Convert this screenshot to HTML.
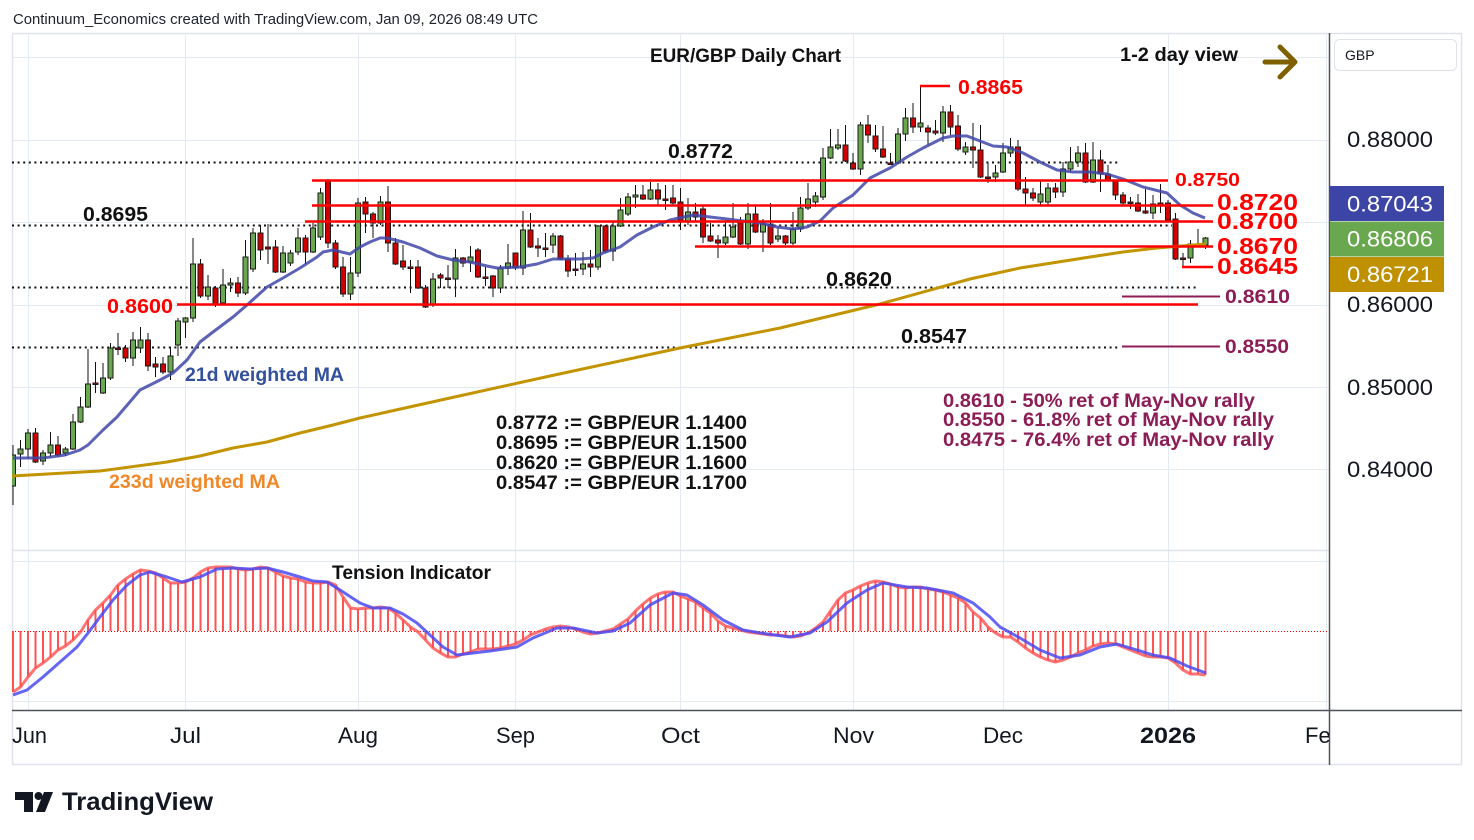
<!DOCTYPE html>
<html><head><meta charset="utf-8">
<style>
html,body{margin:0;padding:0;background:#fff;width:1474px;height:840px;overflow:hidden}
svg{display:block}
text{font-family:"Liberation Sans","DejaVu Sans",sans-serif}
.b{font-weight:bold}
</style></head><body>
<svg width="1474" height="840" viewBox="0 0 1474 840" xmlns="http://www.w3.org/2000/svg">
<defs>
<clipPath id="cm"><rect x="12" y="34" width="1317" height="516"/></clipPath>
<clipPath id="ci"><rect x="12" y="551" width="1317" height="159"/></clipPath>
</defs>
<rect width="1474" height="840" fill="#fff"/>
<!-- grid -->
<g stroke="#e4eaf2" stroke-width="1" fill="none">
<path d="M12 57.5H1329M12 140.5H1329M12 222.5H1329M12 305.5H1329M12 387.5H1329M12 469.5H1329M12 561.5H1329M12 701.5H1329"/>
<path d="M28.5 34V710M185.5 34V710M358.5 34V710M515.5 34V710M680.5 34V710M853.5 34V710M1003.5 34V710M1168.5 34V710M1326.5 34V710"/>
</g>
<!-- frame -->
<rect x="12.5" y="33.5" width="1449" height="731" fill="none" stroke="#e0e3eb" stroke-width="1.5"/>
<path d="M12 550.5H1329" stroke="#e0e3eb" stroke-width="1.5"/>
<path d="M1329.5 33V765" stroke="#50535e" stroke-width="1.5"/>
<path d="M12 710.5H1462" stroke="#50535e" stroke-width="1.5"/>

<!-- header -->
<text x="13" y="24" font-size="15" fill="#1e222d" textLength="525" lengthAdjust="spacingAndGlyphs">Continuum_Economics created with TradingView.com, Jan 09, 2026 08:49 UTC</text>

<!-- dotted levels -->
<g stroke="#111" stroke-width="2" stroke-dasharray="2 3.6" fill="none" clip-path="url(#cm)">
<path d="M12 162.5H1120"/>
<path d="M12 225.5H1172"/>
<path d="M12 287.5H1198"/>
<path d="M12 347.5H1120"/>
</g>

<!-- candles -->
<g clip-path="url(#cm)">
<path stroke="#111" stroke-width="1" fill="none" d="M13 445V505M20.5 440V467M28 429V458M35.5 428V463M43 450V465M50.5 432V457M58 436V457M65.5 447V456M73 414V450M80.5 397V423M88 349V408M95.5 362V393M103 363V394M110.5 343V380M118 333V355M125.5 345V362M133 332V366M140.5 327V353M148 333V371M155.5 357V377M163 357V374M170.5 347V380M178 318V356M185.5 317V338M193 238V322M200.5 259V298M208 275V300M215.5 286V307M223 269V304M230.5 278V292M238 277V297M245.5 240V295M253 228V272M260.5 225V260M268 224V264M275.5 240V273M283 246V273M290.5 250V266M298 228V255M305.5 235V264M313 223V253M320.5 188V240M328 179V248M335.5 240V269M343 257V297M350.5 257V300M358 198V277M365.5 197V233M373 212V238M380.5 196V225M388 186V252M395.5 238V265M403 245V270M410.5 260V293M418 260V289M425.5 285V308M433 273V307M440.5 273V288M448 265V288M455.5 249V297M463 257V267M470.5 246V272M478 248V278M485.5 267V286M493 275V297M500.5 265V293M508 244V275M515.5 253V270M523 211V275M530.5 213V248M538 238V257M545.5 233V257M553 233V253M560.5 235V260M568 255V277M575.5 253V276M583 252V275M590.5 250V277M598 225V270M605.5 225V253M613 222V261M620.5 198V227M628 193V216M635.5 185V208M643 185V200M650.5 182V200M658 183V205M665.5 185V210M673 185V205M680.5 188V230M688 198V225M695.5 203V222M703 205V243M710.5 223V242M718 235V258M725.5 222V245M733 203V238M740.5 217V245M748 203V249M755.5 205V233M763 219V252M770.5 203V245M778 227V242M785.5 235V245M793 212V245M800.5 197V232M808 183V210M815.5 192V207M823 148V200M830.5 129V159M838 129V150M845.5 125V162M853 153V170M860.5 122V175M868 115V143M875.5 125V152M883 126V158M890.5 153V165M898 128V164M905.5 108V141M913 103V133M920.5 86V132M928 125V145M935.5 120V135M943 106V142M950.5 105V135M958 115V151M965.5 142V155M973 123V168M980.5 125V178M988 163V183M995.5 165V182M1003 143V173M1010.5 138V157M1018 140V191M1025.5 177V205M1033 188V201M1040.5 180V205M1048 183V205M1055.5 183V198M1063 162V197M1070.5 147V172M1078 146V167M1085.5 143V183M1093 142V183M1100.5 150V192M1108 165V181M1115.5 180V200M1123 192V205M1130.5 197V209M1138 194V212M1145.5 189V214M1153 195V219M1160.5 184V213M1168 200V221M1175.5 213V260M1183 253V267M1190.5 240V263M1198 229V245M1205.5 237V249"/>
<path stroke="#1a1a1a" stroke-width="1" fill="#6aa84f" d="M10.5 455h5v31h-5zM18 449h5v5h-5zM25.5 433h5v16h-5zM40.5 453h5v8h-5zM48 445h5v8h-5zM63 449h5v4h-5zM70.5 422h5v27h-5zM78 407h5v15h-5zM85.5 384h5v23h-5zM100.5 378h5v15h-5zM108 348h5v30h-5zM130.5 340h5v18h-5zM138 340h5v8h-5zM168 356h5v16h-5zM175.5 321h5v24h-5zM183 318h5v4h-5zM190.5 264h5v54h-5zM205.5 287h5v9h-5zM220.5 285h5v18h-5zM228 283h5v2h-5zM243 257h5v36h-5zM250.5 233h5v36h-5zM280.5 253h5v19h-5zM288 253h5v10h-5zM295.5 238h5v14h-5zM310.5 228h5v24h-5zM318 193h5v44h-5zM348 273h5v21h-5zM355.5 203h5v70h-5zM378 202h5v21h-5zM430.5 279h5v26h-5zM453 258h5v21h-5zM468 257h5v5h-5zM498 268h5v20h-5zM505.5 263h5v5h-5zM520.5 230h5v38h-5zM550.5 236h5v9h-5zM580.5 264h5v5h-5zM595.5 226h5v41h-5zM610.5 226h5v25h-5zM618 210h5v16h-5zM625.5 197h5v17h-5zM633 195h5v2h-5zM648 190h5v9h-5zM685.5 212h5v9h-5zM723 237h5v6h-5zM730.5 227h5v10h-5zM745.5 214h5v30h-5zM760.5 224h5v8h-5zM775.5 236h5v3h-5zM790.5 229h5v14h-5zM798 208h5v21h-5zM805.5 199h5v9h-5zM813 196h5v6h-5zM820.5 158h5v39h-5zM828 147h5v11h-5zM835.5 145h5v3h-5zM858 125h5v44h-5zM895.5 134h5v29h-5zM903 118h5v16h-5zM918 123h5v4h-5zM940.5 112h5v21h-5zM963 147h5v5h-5zM993 173h5v4h-5zM1000.5 153h5v19h-5zM1008 147h5v6h-5zM1038 194h5v8h-5zM1045.5 188h5v14h-5zM1060.5 169h5v23h-5zM1068 162h5v7h-5zM1075.5 153h5v9h-5zM1090.5 160h5v22h-5zM1150.5 204h5v9h-5zM1188 244h5v14h-5zM1203 238h5v7h-5z"/>
<path stroke="#1a1a1a" stroke-width="1" fill="#d00000" d="M33 433h5v29h-5zM55.5 445h5v10h-5zM93 383h5v1.5h-5zM115.5 348h5v1.5h-5zM123 348h5v10h-5zM145.5 340h5v26h-5zM153 364h5v3h-5zM160.5 364h5v8h-5zM198 264h5v32h-5zM213 288h5v16h-5zM235.5 283h5v10h-5zM258 233h5v17h-5zM265.5 247h5v2h-5zM273 247h5v25h-5zM303 238h5v14h-5zM325.5 181h5v62h-5zM333 243h5v24h-5zM340.5 267h5v27h-5zM363 202h5v12h-5zM370.5 214h5v9h-5zM385.5 202h5v41h-5zM393 243h5v21h-5zM400.5 261h5v6h-5zM408 267h5v1.5h-5zM415.5 267h5v21h-5zM423 288h5v19h-5zM438 275h5v3h-5zM445.5 278h5v1.5h-5zM460.5 258h5v5h-5zM475.5 250h5v27h-5zM483 277h5v1.5h-5zM490.5 276h5v12h-5zM513 253h5v15h-5zM528 230h5v17h-5zM535.5 246h5v2h-5zM543 248h5v1.5h-5zM558 236h5v23h-5zM565.5 259h5v12h-5zM573 269h5v1.5h-5zM588 264h5v3h-5zM603 226h5v25h-5zM640.5 195h5v4h-5zM655.5 190h5v9h-5zM663 199h5v1.5h-5zM670.5 198h5v5h-5zM678 202h5v19h-5zM693 212h5v5h-5zM700.5 209h5v28h-5zM708 236h5v5h-5zM715.5 240h5v3h-5zM738 222h5v22h-5zM753 214h5v18h-5zM768 224h5v19h-5zM783 236h5v7h-5zM843 145h5v16h-5zM850.5 163h5v6h-5zM865.5 125h5v10h-5zM873 136h5v13h-5zM880.5 149h5v8h-5zM888 163h5v1.5h-5zM910.5 118h5v9h-5zM925.5 128h5v4h-5zM933 131h5v2h-5zM948 112h5v15h-5zM955.5 126h5v23h-5zM970.5 147h5v3h-5zM978 150h5v27h-5zM985.5 177h5v1.5h-5zM1015.5 147h5v42h-5zM1023 189h5v4h-5zM1030.5 193h5v5h-5zM1053 188h5v4h-5zM1083 153h5v29h-5zM1098 160h5v14h-5zM1105.5 174h5v7h-5zM1113 181h5v14h-5zM1120.5 195h5v8h-5zM1128 202h5v1.5h-5zM1135.5 203h5v8h-5zM1143 211h5v2h-5zM1158 203h5v2h-5zM1165.5 203h5v17h-5zM1173 219h5v40h-5zM1180.5 258h5v1.5h-5zM1195.5 244h5v1.5h-5z"/>
<!-- 233d MA -->
<polyline fill="none" stroke="#c29400" stroke-width="3" stroke-linejoin="round" points="12,476 100,471 167,462 200,456 233,448 267,442 300,433 333,425 360,418 450,398 550,376 680,348 780,328 880,304 970,279 1020,268 1090,257 1123,252 1157,248 1206,244"/>
<!-- 21d MA -->
<polyline fill="none" stroke="#3f47a8" stroke-opacity="0.85" stroke-width="3" stroke-linejoin="round" points="13,458 43,458 65,455 80,450 88,445 103,430 117,417 140,390 160,380 173,373 187,360 200,342 213,332 233,317 247,305 267,287 283,278 300,268 317,257 323,252 333,250 350,254 360,247 370,242 380,238 387,238 403,242 420,248 437,256 453,260 470,262 487,266 497,268 520,267 537,264 553,259 580,259 593,258 603,253 620,247 637,235 653,227 670,220 693,215 710,217 727,219 743,221 760,223 777,227 793,229 807,227 820,221 833,208 853,195 870,178 890,168 907,157 923,148 933,143 943,138 953,136 967,136 980,141 993,146 1007,147 1023,153 1040,162 1057,170 1073,172 1090,172 1107,174 1123,179 1143,187 1167,193 1180,205 1193,213 1205,218"/>
</g>

<!-- indicator -->
<g clip-path="url(#ci)">
<path d="M12 631.5H1329" stroke="#ff0000" stroke-width="1" stroke-dasharray="1 2" fill="none"/>
<path stroke="#ff4040" stroke-opacity="0.9" stroke-width="2" fill="none" d="M13 631V692M20.5 631V687M28 631V677M35.5 631V668M43 631V663M50.5 631V657M58 631V650M65.5 631V646M73 631V640M80.5 631V632M88 631V620M95.5 631V610M103 631V603M110.5 631V595M118 631V585M125.5 631V579M133 631V574M140.5 631V570M148 631V571M155.5 631V573M163 631V578M170.5 631V583M178 631V583M185.5 631V582M193 631V578M200.5 631V572M208 631V568M215.5 631V567M223 631V567M230.5 631V567M238 631V569M245.5 631V570M253 631V569M260.5 631V567M268 631V568M275.5 631V572M283 631V576M290.5 631V578M298 631V579M305.5 631V582M313 631V583M320.5 631V583M328 631V582M335.5 631V585M343 631V597M350.5 631V608M358 631V609M365.5 631V608M373 631V608M380.5 631V607M388 631V608M395.5 631V613M403 631V620M410.5 631V627M418 631V632M425.5 631V640M433 631V648M440.5 631V653M448 631V657M455.5 631V657M463 631V654M470.5 631V652M478 631V649M485.5 631V649M493 631V649M500.5 631V648M508 631V646M515.5 631V644M523 631V640M530.5 631V635M538 631V632M545.5 631V629M553 631V627M560.5 631V626M568 631V627M575.5 631V629M583 631V632M590.5 631V634M598 631V633M605.5 631V631M613 631V629M620.5 631V624M628 631V619M635.5 631V611M643 631V604M650.5 631V598M658 631V594M665.5 631V592M673 631V592M680.5 631V596M688 631V599M695.5 631V602M703 631V608M710.5 631V613M718 631V621M725.5 631V626M733 631V628M740.5 631V630M748 631V632M755.5 631V633M763 631V634M770.5 631V635M778 631V635M785.5 631V636M793 631V637M800.5 631V636M808 631V633M815.5 631V628M823 631V622M830.5 631V611M838 631V600M845.5 631V593M853 631V590M860.5 631V586M868 631V583M875.5 631V581M883 631V582M890.5 631V584M898 631V587M905.5 631V588M913 631V587M920.5 631V587M928 631V589M935.5 631V590M943 631V592M950.5 631V595M958 631V598M965.5 631V603M973 631V612M980.5 631V618M988 631V627M995.5 631V633M1003 631V637M1010.5 631V637M1018 631V642M1025.5 631V648M1033 631V653M1040.5 631V657M1048 631V660M1055.5 631V662M1063 631V660M1070.5 631V657M1078 631V653M1085.5 631V650M1093 631V646M1100.5 631V644M1108 631V643M1115.5 631V644M1123 631V647M1130.5 631V650M1138 631V653M1145.5 631V656M1153 631V657M1160.5 631V657M1168 631V658M1175.5 631V663M1183 631V670M1190.5 631V674M1198 631V674M1205.5 631V675"/>
<polyline fill="none" stroke="#ff5050" stroke-opacity="0.8" stroke-width="3" stroke-linejoin="round" points="13,692 20.5,687 28,677 35.5,668 43,663 50.5,657 58,650 65.5,646 73,640 80.5,632 88,620 95.5,610 103,603 110.5,595 118,585 125.5,579 133,574 140.5,570 148,571 155.5,573 163,578 170.5,583 178,583 185.5,582 193,578 200.5,572 208,568 215.5,567 223,567 230.5,567 238,569 245.5,570 253,569 260.5,567 268,568 275.5,572 283,576 290.5,578 298,579 305.5,582 313,583 320.5,583 328,582 335.5,585 343,597 350.5,608 358,609 365.5,608 373,608 380.5,607 388,608 395.5,613 403,620 410.5,627 418,632 425.5,640 433,648 440.5,653 448,657 455.5,657 463,654 470.5,652 478,649 485.5,649 493,649 500.5,648 508,646 515.5,644 523,640 530.5,635 538,632 545.5,629 553,627 560.5,626 568,627 575.5,629 583,632 590.5,634 598,633 605.5,631 613,629 620.5,624 628,619 635.5,611 643,604 650.5,598 658,594 665.5,592 673,592 680.5,596 688,599 695.5,602 703,608 710.5,613 718,621 725.5,626 733,628 740.5,630 748,632 755.5,633 763,634 770.5,635 778,635 785.5,636 793,637 800.5,636 808,633 815.5,628 823,622 830.5,611 838,600 845.5,593 853,590 860.5,586 868,583 875.5,581 883,582 890.5,584 898,587 905.5,588 913,587 920.5,587 928,589 935.5,590 943,592 950.5,595 958,598 965.5,603 973,612 980.5,618 988,627 995.5,633 1003,637 1010.5,637 1018,642 1025.5,648 1033,653 1040.5,657 1048,660 1055.5,662 1063,660 1070.5,657 1078,653 1085.5,650 1093,646 1100.5,644 1108,643 1115.5,644 1123,647 1130.5,650 1138,653 1145.5,656 1153,657 1160.5,657 1168,658 1175.5,663 1183,670 1190.5,674 1198,674 1205.5,675"/>
<polyline fill="none" stroke="#4a4af5" stroke-opacity="0.85" stroke-width="3" stroke-linejoin="round" points="13,695 27,690 43,677 60,662 77,647 88,633 100,617 113,600 127,585 140,575 150,572 167,577 182,582 200,577 217,569 233,568 250,569 267,568 283,572 300,577 313,581 327,582 340,590 360,603 373,608 390,608 403,614 417,623 430,635 443,647 457,655 473,653 490,651 517,647 533,638 557,628 573,628 597,633 613,631 630,623 650,605 673,593 687,595 703,605 723,620 743,630 767,634 790,637 810,633 827,622 847,603 867,590 883,583 907,587 927,588 953,593 973,603 990,617 1000,627 1020,638 1040,650 1060,658 1080,655 1100,647 1117,644 1137,650 1153,655 1170,658 1187,666 1206,673"/>
</g>

<!-- red levels -->
<g stroke="#ff0000" stroke-width="2.4" fill="none">
<path d="M920 86H950"/>
<path d="M312 180.5H1168"/>
<path d="M312 205.5H1213"/>
<path d="M305 221.5H1213"/>
<path d="M695 246.5H1213"/>
<path d="M1182 267H1213"/>
<path d="M177 304.5H1198"/>
</g>
<g stroke="#8c1d56" stroke-width="2" fill="none">
<path d="M1122 296.5H1220"/>
<path d="M1122 346.5H1220"/>
</g>

<!-- red labels -->
<g fill="#ff0000">
<text x="958" y="94" font-size="20" class="b" textLength="65" lengthAdjust="spacingAndGlyphs">0.8865</text>
<text x="1175" y="186" font-size="18" class="b" textLength="65" lengthAdjust="spacingAndGlyphs">0.8750</text>
<text x="1217" y="210" font-size="23" class="b" textLength="81" lengthAdjust="spacingAndGlyphs">0.8720</text>
<text x="1217" y="229" font-size="23" class="b" textLength="81" lengthAdjust="spacingAndGlyphs">0.8700</text>
<text x="1217" y="254" font-size="23" class="b" textLength="81" lengthAdjust="spacingAndGlyphs">0.8670</text>
<text x="1217" y="274" font-size="23" class="b" textLength="81" lengthAdjust="spacingAndGlyphs">0.8645</text>
<text x="107" y="313" font-size="20" class="b" textLength="66" lengthAdjust="spacingAndGlyphs">0.8600</text>
</g>
<g fill="#8c1d56">
<text x="1225" y="303" font-size="19" class="b" textLength="65" lengthAdjust="spacingAndGlyphs">0.8610</text>
<text x="1225" y="353" font-size="19" class="b" textLength="64" lengthAdjust="spacingAndGlyphs">0.8550</text>
<text x="943" y="407" font-size="19" class="b" textLength="312" lengthAdjust="spacingAndGlyphs">0.8610 - 50% ret of May-Nov rally</text>
<text x="943" y="426" font-size="19" class="b" textLength="331" lengthAdjust="spacingAndGlyphs">0.8550 - 61.8% ret of May-Nov rally</text>
<text x="943" y="446" font-size="19" class="b" textLength="331" lengthAdjust="spacingAndGlyphs">0.8475 - 76.4% ret of May-Nov rally</text>
</g>

<!-- black labels -->
<g fill="#111">
<text x="650" y="62" font-size="19" class="b" textLength="191" lengthAdjust="spacingAndGlyphs">EUR/GBP Daily Chart</text>
<text x="1120" y="61" font-size="19" class="b" textLength="118" lengthAdjust="spacingAndGlyphs">1-2 day view</text>
<text x="668" y="158" font-size="20" class="b" textLength="65" lengthAdjust="spacingAndGlyphs">0.8772</text>
<text x="83" y="221" font-size="20" class="b" textLength="65" lengthAdjust="spacingAndGlyphs">0.8695</text>
<text x="826" y="286" font-size="20" class="b" textLength="66" lengthAdjust="spacingAndGlyphs">0.8620</text>
<text x="901" y="343" font-size="20" class="b" textLength="66" lengthAdjust="spacingAndGlyphs">0.8547</text>
<text x="496" y="429" font-size="19" class="b" textLength="251" lengthAdjust="spacingAndGlyphs">0.8772 := GBP/EUR 1.1400</text>
<text x="496" y="449" font-size="19" class="b" textLength="251" lengthAdjust="spacingAndGlyphs">0.8695 := GBP/EUR 1.1500</text>
<text x="496" y="469" font-size="19" class="b" textLength="251" lengthAdjust="spacingAndGlyphs">0.8620 := GBP/EUR 1.1600</text>
<text x="496" y="489" font-size="19" class="b" textLength="251" lengthAdjust="spacingAndGlyphs">0.8547 := GBP/EUR 1.1700</text>
<text x="332" y="579" font-size="19" class="b" textLength="159" lengthAdjust="spacingAndGlyphs">Tension Indicator</text>
</g>
<text x="185" y="381" font-size="19" class="b" fill="#33509c" textLength="159" lengthAdjust="spacingAndGlyphs">21d weighted MA</text>
<text x="109" y="488" font-size="19" class="b" fill="#f0882a" textLength="171" lengthAdjust="spacingAndGlyphs">233d weighted MA</text>

<!-- arrow -->
<g stroke="#7f6000" stroke-width="5" stroke-linecap="round" stroke-linejoin="round" fill="none">
<path d="M1265 62H1295M1280 47L1295 62L1280 77"/>
</g>

<!-- price axis -->
<rect x="1334.5" y="39.5" width="122" height="31" rx="5" fill="#fff" stroke="#e0e3eb"/>
<text x="1345" y="60" font-size="14" fill="#131722">GBP</text>
<g fill="#131722" font-size="22">
<text x="1347" y="147" textLength="86" lengthAdjust="spacingAndGlyphs">0.88000</text>
<text x="1347" y="312" textLength="86" lengthAdjust="spacingAndGlyphs">0.86000</text>
<text x="1347" y="395" textLength="86" lengthAdjust="spacingAndGlyphs">0.85000</text>
<text x="1347" y="477" textLength="86" lengthAdjust="spacingAndGlyphs">0.84000</text>
</g>
<rect x="1330" y="186" width="114" height="35" fill="#3c45a5"/>
<rect x="1330" y="221.5" width="114" height="35" fill="#6aa84f"/>
<rect x="1330" y="257" width="114" height="35" fill="#bf9000"/>
<g fill="#fff" font-size="22">
<text x="1347" y="211.5" textLength="86" lengthAdjust="spacingAndGlyphs">0.87043</text>
<text x="1347" y="246.5" textLength="86" lengthAdjust="spacingAndGlyphs">0.86806</text>
<text x="1347" y="282" textLength="86" lengthAdjust="spacingAndGlyphs">0.86721</text>
</g>

<!-- time axis -->
<g fill="#131722" font-size="22">
<text x="12" y="743" textLength="35" lengthAdjust="spacingAndGlyphs">Jun</text>
<text x="170" y="743" textLength="31" lengthAdjust="spacingAndGlyphs">Jul</text>
<text x="338" y="743" textLength="40" lengthAdjust="spacingAndGlyphs">Aug</text>
<text x="496" y="743" textLength="39" lengthAdjust="spacingAndGlyphs">Sep</text>
<text x="661" y="743" textLength="39" lengthAdjust="spacingAndGlyphs">Oct</text>
<text x="833" y="743" textLength="41" lengthAdjust="spacingAndGlyphs">Nov</text>
<text x="983" y="743" textLength="40" lengthAdjust="spacingAndGlyphs">Dec</text>
<text x="1140" y="743" class="b" textLength="56" lengthAdjust="spacingAndGlyphs">2026</text>
</g>
<svg x="1300" y="715" width="29" height="45"><text x="5" y="28" font-size="22" fill="#131722">Feb</text></svg>

<!-- TradingView logo -->
<g fill="#131722">
<path d="M15 792H33V812H24V800H15Z"/>
<circle cx="38.5" cy="796" r="4"/>
<path d="M44 792H53L45 812H36Z"/>
<text x="62" y="810" font-size="25" class="b" textLength="151" lengthAdjust="spacingAndGlyphs">TradingView</text>
</g>
</svg>
</body></html>
